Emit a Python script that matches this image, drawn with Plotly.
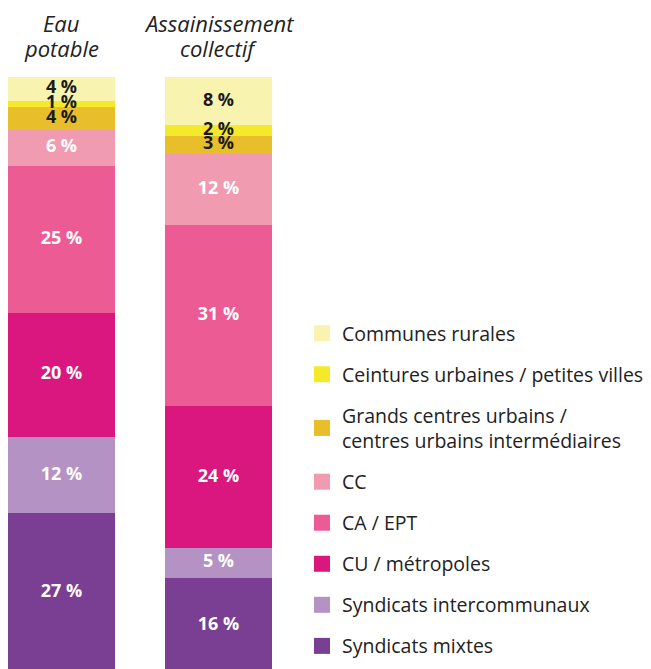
import numpy as np
import plotly.graph_objs as go

# categories (bottom to top of the stack)
categories = ["Syndicats mixtes", "Syndicats intercommunaux", "CU / métropoles", "CA / EPT",
              "CC", "Grands centres urbains /<br>centres urbains intermédiaires",
              "Ceintures urbaines / petites villes", "Communes rurales"]
colors = ["#7A3E93", "#B492C3", "#D9177F", "#EC5B94", "#F09BB0", "#E8BE2A", "#F5E92C", "#F8F4B0"]
text_colors = ["white", "white", "white", "white", "white", "#1a1a1a", "#1a1a1a", "#1a1a1a"]

eau_values = [26.8, 12.8, 20.8, 24.7, 6.0, 3.9, 1.0, 4.0]
eau_labels = ["27 %", "12 %", "20 %", "25 %", "6 %", "4 %", "1 %", "4 %"]
assain_values = [16.0, 5.0, 23.7, 30.5, 11.9, 3.0, 1.8, 8.1]
assain_labels = ["16 %", "5 %", "24 %", "31 %", "12 %", "3 %", "2 %", "8 %"]

bar_x = [53.5, 210.5]
title_lines = [["Eau", "potable"], ["Assainissement", "collectif"]]

FONT = "Open Sans"

fig = go.Figure()
for i, name in enumerate(categories):
    fig.add_trace(go.Bar(
        x=bar_x, y=[eau_values[i], assain_values[i]], width=107,
        name=name, showlegend=False,
        marker=dict(color=colors[i], line=dict(width=0)),
        hoverinfo="name+y",
    ))

# labels drawn on top of all segments so the thin ones stay readable
for x, vals, labels in [(bar_x[0], eau_values, eau_labels), (bar_x[1], assain_values, assain_labels)]:
    vals = np.array(vals)
    mids = np.cumsum(vals) - vals / 2
    fig.add_trace(go.Scatter(
        x=[x] * len(vals), y=mids, mode="text", text=labels, showlegend=False,
        textposition="middle center",
        textfont=dict(family=FONT, size=18, color=text_colors, weight="bold"),
        hoverinfo="skip",
    ))

# legend entries, top to bottom
for i in reversed(range(len(categories))):
    fig.add_trace(go.Scatter(
        x=[None], y=[None], mode="markers", name=categories[i], legendgroup=categories[i],
        marker=dict(symbol="square", size=16, color=colors[i]),
    ))

for x, lines in zip(bar_x, title_lines):
    for k, line in enumerate(lines):
        fig.add_annotation(x=x, y=1, xref="x", yref="paper", yshift=54 - 25 * k,
                           text="<i>" + line + "</i>", showarrow=False,
                           yanchor="middle", xanchor="center",
                           font=dict(family=FONT, size=22, color="#222222"))

fig.update_layout(
    width=651, height=669,
    margin=dict(l=0, r=0, t=69, b=0),
    barmode="stack", bargap=0,
    paper_bgcolor="white", plot_bgcolor="white",
    xaxis=dict(range=[0, 651], visible=False, fixedrange=True),
    yaxis=dict(range=[-0.7, 100], visible=False, fixedrange=True),
    legend=dict(x=0.4516, xanchor="left", y=0.605, yanchor="top", traceorder="grouped",
                tracegroupgap=12.7, itemwidth=30, bgcolor="rgba(0,0,0,0)",
                font=dict(family=FONT, size=19.5, color="#222222")),
    showlegend=True,
)

fig.write_html("out.html")
